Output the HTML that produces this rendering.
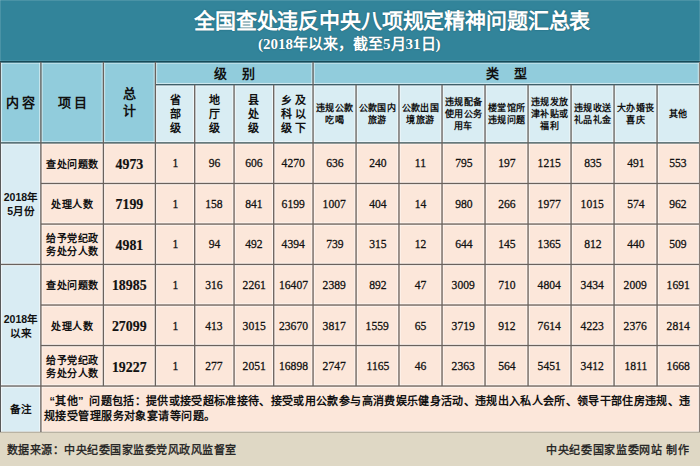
<!DOCTYPE html>
<html lang="zh-CN"><head><meta charset="utf-8"><title>全国查处违反中央八项规定精神问题汇总表</title><style>
*{margin:0;padding:0;box-sizing:border-box}
html,body{width:700px;height:466px;overflow:hidden;background:#fce7da}
body{position:relative;font-family:"Liberation Sans",sans-serif;color:#111}
svg{position:absolute;left:0;top:0}
.t{position:absolute;display:flex;align-items:center;justify-content:center;text-align:center;white-space:nowrap}
.t span{display:block}
.t i{display:block;font-style:normal;text-align:justify;text-align-last:justify}
.j{text-align:justify;text-align-last:justify;white-space:nowrap}
.h1{font-size:13px;font-weight:bold;line-height:17px}
.h2{font-size:13px;font-weight:bold;letter-spacing:15px;padding-left:15px}
.h3{font-size:11px;font-weight:bold;line-height:14px;padding-top:1px}
.h4{font-size:9px;font-weight:bold;line-height:12px;letter-spacing:0.4px}
.lc{font-size:11px;font-weight:bold;line-height:13.5px}
.lc span{transform:scale(0.96)}
.it{font-size:10px;font-weight:bold;line-height:13.5px;padding-top:2.5px}
.tot{font-family:"Liberation Serif",serif;font-size:15.4px;font-weight:bold;padding-top:1px;-webkit-text-stroke:0.2px #111}
.tot span{transform:scaleX(0.9)}
.num{font-family:"Liberation Serif",serif;font-size:13.2px;-webkit-text-stroke:0.3px #111}
.num span{transform:scaleX(0.88)}
.q{display:inline-block;width:11px;text-align:left;text-align-last:left}
.ql{text-align:right;text-align-last:right}
.note{position:absolute;font-size:11px;font-weight:bold;line-height:14.5px}
.title{position:absolute;left:194px;top:8px;width:396px;letter-spacing:-0.4px;font-weight:bold;font-size:21px;line-height:26px;color:#fff;text-shadow:0 0 1.2px rgba(15,70,85,0.9)}
.sub{position:absolute;left:258px;top:34px;font-weight:bold;font-size:15px;line-height:20px;color:#fff;white-space:nowrap;text-shadow:0 0 1.2px rgba(15,70,85,0.9)}
.sf{font-family:"Liberation Serif",serif}
.foot{position:absolute;top:441px;font-size:11px;line-height:18px;color:#1e1e1e;-webkit-text-stroke:0.35px #1e1e1e}
</style></head><body>
<svg width="700" height="466" viewBox="0 0 700 466"><rect x="0.00" y="0.00" width="700.00" height="62.00" fill="#32849a"/><rect x="0.00" y="62.00" width="700.00" height="370.00" fill="#fce7da"/><rect x="0.00" y="432.00" width="700.00" height="34.00" fill="#dfd8c5"/><rect x="0.00" y="61.80" width="700.00" height="81.10" fill="#91ccdc"/><rect x="155.40" y="84.70" width="544.60" height="58.20" fill="#d9edf3"/><rect x="0.00" y="142.90" width="40.90" height="289.10" fill="#d9ecf3"/><rect x="0.00" y="0.00" width="700.00" height="1.00" fill="#ffffff" fill-opacity="0.12"/><rect x="0.00" y="0.00" width="1.00" height="61.00" fill="#ffffff" fill-opacity="0.12"/><rect x="699.00" y="0.00" width="1.00" height="61.00" fill="#ffffff" fill-opacity="0.12"/><rect x="0.00" y="60.00" width="700.00" height="1.00" fill="#ffffff" fill-opacity="0.1"/><rect x="0.00" y="62.60" width="700.00" height="1.10" fill="#ffffff" fill-opacity="0.5"/><rect x="155.40" y="82.95" width="544.60" height="1.10" fill="#ffffff" fill-opacity="0.55"/><rect x="155.40" y="85.35" width="544.60" height="1.10" fill="#ffffff" fill-opacity="0.55"/><rect x="0.00" y="141.15" width="700.00" height="1.10" fill="#ffffff" fill-opacity="0.55"/><rect x="0.00" y="143.55" width="700.00" height="1.10" fill="#ffffff" fill-opacity="0.55"/><rect x="40.90" y="181.72" width="659.10" height="1.10" fill="#ffffff" fill-opacity="0.55"/><rect x="40.90" y="184.12" width="659.10" height="1.10" fill="#ffffff" fill-opacity="0.55"/><rect x="40.90" y="222.31" width="659.10" height="1.10" fill="#ffffff" fill-opacity="0.55"/><rect x="40.90" y="224.71" width="659.10" height="1.10" fill="#ffffff" fill-opacity="0.55"/><rect x="0.00" y="262.68" width="700.00" height="1.10" fill="#ffffff" fill-opacity="0.55"/><rect x="0.00" y="265.08" width="700.00" height="1.10" fill="#ffffff" fill-opacity="0.55"/><rect x="40.90" y="303.28" width="659.10" height="1.10" fill="#ffffff" fill-opacity="0.55"/><rect x="40.90" y="305.68" width="659.10" height="1.10" fill="#ffffff" fill-opacity="0.55"/><rect x="40.90" y="343.77" width="659.10" height="1.10" fill="#ffffff" fill-opacity="0.55"/><rect x="40.90" y="346.17" width="659.10" height="1.10" fill="#ffffff" fill-opacity="0.55"/><rect x="0.00" y="384.28" width="700.00" height="1.10" fill="#ffffff" fill-opacity="0.55"/><rect x="0.00" y="386.68" width="700.00" height="1.10" fill="#ffffff" fill-opacity="0.55"/><rect x="0.00" y="430.90" width="700.00" height="0.80" fill="#ffffff" fill-opacity="0.6"/><rect x="-1.10" y="61.80" width="1.10" height="370.20" fill="#ffffff" fill-opacity="0.55"/><rect x="1.00" y="61.80" width="1.10" height="370.20" fill="#ffffff" fill-opacity="0.55"/><rect x="697.80" y="61.80" width="1.10" height="370.20" fill="#ffffff" fill-opacity="0.55"/><rect x="700.10" y="61.80" width="1.10" height="370.20" fill="#ffffff" fill-opacity="0.55"/><rect x="39.15" y="61.80" width="1.10" height="370.20" fill="#ffffff" fill-opacity="0.55"/><rect x="41.55" y="61.80" width="1.10" height="370.20" fill="#ffffff" fill-opacity="0.55"/><rect x="101.65" y="61.80" width="1.10" height="324.23" fill="#ffffff" fill-opacity="0.55"/><rect x="104.05" y="61.80" width="1.10" height="324.23" fill="#ffffff" fill-opacity="0.55"/><rect x="153.65" y="61.80" width="1.10" height="324.23" fill="#ffffff" fill-opacity="0.55"/><rect x="156.05" y="61.80" width="1.10" height="324.23" fill="#ffffff" fill-opacity="0.55"/><rect x="192.95" y="84.70" width="1.10" height="301.33" fill="#ffffff" fill-opacity="0.55"/><rect x="195.35" y="84.70" width="1.10" height="301.33" fill="#ffffff" fill-opacity="0.55"/><rect x="232.30" y="84.70" width="1.10" height="301.33" fill="#ffffff" fill-opacity="0.55"/><rect x="234.70" y="84.70" width="1.10" height="301.33" fill="#ffffff" fill-opacity="0.55"/><rect x="271.95" y="84.70" width="1.10" height="301.33" fill="#ffffff" fill-opacity="0.55"/><rect x="274.35" y="84.70" width="1.10" height="301.33" fill="#ffffff" fill-opacity="0.55"/><rect x="311.30" y="61.80" width="1.10" height="324.23" fill="#ffffff" fill-opacity="0.55"/><rect x="313.70" y="61.80" width="1.10" height="324.23" fill="#ffffff" fill-opacity="0.55"/><rect x="354.31" y="84.70" width="1.10" height="301.33" fill="#ffffff" fill-opacity="0.55"/><rect x="356.71" y="84.70" width="1.10" height="301.33" fill="#ffffff" fill-opacity="0.55"/><rect x="397.22" y="84.70" width="1.10" height="301.33" fill="#ffffff" fill-opacity="0.55"/><rect x="399.62" y="84.70" width="1.10" height="301.33" fill="#ffffff" fill-opacity="0.55"/><rect x="440.28" y="84.70" width="1.10" height="301.33" fill="#ffffff" fill-opacity="0.55"/><rect x="442.68" y="84.70" width="1.10" height="301.33" fill="#ffffff" fill-opacity="0.55"/><rect x="483.28" y="84.70" width="1.10" height="301.33" fill="#ffffff" fill-opacity="0.55"/><rect x="485.68" y="84.70" width="1.10" height="301.33" fill="#ffffff" fill-opacity="0.55"/><rect x="526.31" y="84.70" width="1.10" height="301.33" fill="#ffffff" fill-opacity="0.55"/><rect x="528.71" y="84.70" width="1.10" height="301.33" fill="#ffffff" fill-opacity="0.55"/><rect x="569.31" y="84.70" width="1.10" height="301.33" fill="#ffffff" fill-opacity="0.55"/><rect x="571.71" y="84.70" width="1.10" height="301.33" fill="#ffffff" fill-opacity="0.55"/><rect x="612.31" y="84.70" width="1.10" height="301.33" fill="#ffffff" fill-opacity="0.55"/><rect x="614.71" y="84.70" width="1.10" height="301.33" fill="#ffffff" fill-opacity="0.55"/><rect x="655.31" y="84.70" width="1.10" height="301.33" fill="#ffffff" fill-opacity="0.55"/><rect x="657.71" y="84.70" width="1.10" height="301.33" fill="#ffffff" fill-opacity="0.55"/><rect x="0.00" y="61.00" width="700.00" height="1.60" fill="#174a58"/><rect x="155.40" y="84.05" width="544.60" height="1.30" fill="#3b5a63"/><rect x="0.00" y="142.25" width="700.00" height="1.30" fill="#3f5458"/><rect x="40.90" y="182.82" width="659.10" height="1.30" fill="#6a625d"/><rect x="40.90" y="223.41" width="659.10" height="1.30" fill="#6a625d"/><rect x="0.00" y="263.78" width="700.00" height="1.30" fill="#6a625d"/><rect x="40.90" y="304.38" width="659.10" height="1.30" fill="#6a625d"/><rect x="40.90" y="344.87" width="659.10" height="1.30" fill="#6a625d"/><rect x="0.00" y="385.38" width="700.00" height="1.30" fill="#6a625d"/><rect x="0.00" y="431.70" width="700.00" height="1.00" fill="#a9a495"/><rect x="0.00" y="61.80" width="1.00" height="370.20" fill="#5a5a5a"/><rect x="698.90" y="61.80" width="1.20" height="370.20" fill="#8a7f78"/><rect x="40.25" y="61.80" width="1.30" height="370.20" fill="#6a625d"/><rect x="102.75" y="61.80" width="1.30" height="324.23" fill="#6a625d"/><rect x="154.75" y="61.80" width="1.30" height="324.23" fill="#6a625d"/><rect x="194.05" y="84.70" width="1.30" height="301.33" fill="#6a625d"/><rect x="233.40" y="84.70" width="1.30" height="301.33" fill="#6a625d"/><rect x="273.05" y="84.70" width="1.30" height="301.33" fill="#6a625d"/><rect x="312.40" y="61.80" width="1.30" height="324.23" fill="#6a625d"/><rect x="355.41" y="84.70" width="1.30" height="301.33" fill="#6a625d"/><rect x="398.32" y="84.70" width="1.30" height="301.33" fill="#6a625d"/><rect x="441.38" y="84.70" width="1.30" height="301.33" fill="#6a625d"/><rect x="484.38" y="84.70" width="1.30" height="301.33" fill="#6a625d"/><rect x="527.41" y="84.70" width="1.30" height="301.33" fill="#6a625d"/><rect x="570.41" y="84.70" width="1.30" height="301.33" fill="#6a625d"/><rect x="613.41" y="84.70" width="1.30" height="301.33" fill="#6a625d"/><rect x="656.41" y="84.70" width="1.30" height="301.33" fill="#6a625d"/></svg>
<div class="t h1" style="left:1px;top:62px;width:39px;height:80px;"><span>内 容</span></div>
<div class="t h1" style="left:42px;top:62px;width:61px;height:80px;"><span>项 目</span></div>
<div class="t h1" style="left:104px;top:62px;width:51px;height:80px;"><span>总<br>计</span></div>
<div class="t h2" style="left:156px;top:61.5px;width:157px;height:22.5px;"><span>级别</span></div>
<div class="t h2" style="left:314px;top:61.5px;width:385px;height:22.5px;"><span>类型</span></div>
<div class="t h3" style="left:155.4px;top:85px;width:39.3px;height:57px;"><span>省<br>部<br>级</span></div>
<div class="t h3" style="left:194.7px;top:85px;width:39.35px;height:57px;"><span>地<br>厅<br>级</span></div>
<div class="t h3" style="left:234.05px;top:85px;width:39.65px;height:57px;"><span>县<br>处<br>级</span></div>
<div class="t h3" style="left:273.7px;top:85px;width:39.35px;height:57px;"><span>乡 及<br>科 以<br>级 下</span></div>
<div class="t h4" style="left:313.05px;top:85px;width:43.01px;height:57px;"><span>违规公款<br>吃喝</span></div>
<div class="t h4" style="left:356.06px;top:85px;width:42.91px;height:57px;"><span>公款国内<br>旅游</span></div>
<div class="t h4" style="left:398.97px;top:85px;width:43.06px;height:57px;"><span>公款出国<br>境旅游</span></div>
<div class="t h4" style="left:442.03px;top:85px;width:43px;height:57px;"><span>违规配备<br>使用公务<br>用车</span></div>
<div class="t h4" style="left:485.03px;top:85px;width:43.03px;height:57px;"><span>楼堂馆所<br>违规问题</span></div>
<div class="t h4" style="left:528.06px;top:85px;width:43px;height:57px;"><span>违规发放<br>津补贴或<br>福利</span></div>
<div class="t h4" style="left:571.06px;top:85px;width:43px;height:57px;"><span>违规收送<br>礼品礼金</span></div>
<div class="t h4" style="left:614.06px;top:85px;width:43px;height:57px;"><span>大办婚丧<br>喜庆</span></div>
<div class="t h4" style="left:657.06px;top:85px;width:42.34px;height:57px;"><span>其他</span></div>
<div class="t lc" style="left:1px;top:143.5px;width:39px;height:121px;"><span>2018年<br>5月份</span></div>
<div class="t lc" style="left:1px;top:265.5px;width:39px;height:121px;"><span>2018年<br>以来</span></div>
<div class="t lc" style="left:1px;top:387px;width:39px;height:45px;"><span>备注</span></div>
<div class="t it" style="left:41px;top:143px;width:62px;height:40px;"><span><i style="width:52px">查处问题数</i></span></div>
<div class="t tot" style="left:104px;top:143px;width:51px;height:40px;"><span>4973</span></div>
<div class="t num" style="left:155.4px;top:143px;width:39.3px;height:40px;"><span>1</span></div>
<div class="t num" style="left:194.7px;top:143px;width:39.35px;height:40px;"><span>96</span></div>
<div class="t num" style="left:234.05px;top:143px;width:39.65px;height:40px;"><span>606</span></div>
<div class="t num" style="left:273.7px;top:143px;width:39.35px;height:40px;"><span>4270</span></div>
<div class="t num" style="left:313.05px;top:143px;width:43.01px;height:40px;"><span>636</span></div>
<div class="t num" style="left:356.06px;top:143px;width:42.91px;height:40px;"><span>240</span></div>
<div class="t num" style="left:398.97px;top:143px;width:43.06px;height:40px;"><span>11</span></div>
<div class="t num" style="left:442.03px;top:143px;width:43px;height:40px;"><span>795</span></div>
<div class="t num" style="left:485.03px;top:143px;width:43.03px;height:40px;"><span>197</span></div>
<div class="t num" style="left:528.06px;top:143px;width:43px;height:40px;"><span>1215</span></div>
<div class="t num" style="left:571.06px;top:143px;width:43px;height:40px;"><span>835</span></div>
<div class="t num" style="left:614.06px;top:143px;width:43px;height:40px;"><span>491</span></div>
<div class="t num" style="left:657.06px;top:143px;width:42.34px;height:40px;"><span>553</span></div>
<div class="t it" style="left:41px;top:183px;width:62px;height:41px;"><span><i style="width:42px">处理人数</i></span></div>
<div class="t tot" style="left:104px;top:183px;width:51px;height:41px;"><span>7199</span></div>
<div class="t num" style="left:155.4px;top:183px;width:39.3px;height:41px;"><span>1</span></div>
<div class="t num" style="left:194.7px;top:183px;width:39.35px;height:41px;"><span>158</span></div>
<div class="t num" style="left:234.05px;top:183px;width:39.65px;height:41px;"><span>841</span></div>
<div class="t num" style="left:273.7px;top:183px;width:39.35px;height:41px;"><span>6199</span></div>
<div class="t num" style="left:313.05px;top:183px;width:43.01px;height:41px;"><span>1007</span></div>
<div class="t num" style="left:356.06px;top:183px;width:42.91px;height:41px;"><span>404</span></div>
<div class="t num" style="left:398.97px;top:183px;width:43.06px;height:41px;"><span>14</span></div>
<div class="t num" style="left:442.03px;top:183px;width:43px;height:41px;"><span>980</span></div>
<div class="t num" style="left:485.03px;top:183px;width:43.03px;height:41px;"><span>266</span></div>
<div class="t num" style="left:528.06px;top:183px;width:43px;height:41px;"><span>1977</span></div>
<div class="t num" style="left:571.06px;top:183px;width:43px;height:41px;"><span>1015</span></div>
<div class="t num" style="left:614.06px;top:183px;width:43px;height:41px;"><span>574</span></div>
<div class="t num" style="left:657.06px;top:183px;width:42.34px;height:41px;"><span>962</span></div>
<div class="t it" style="left:41px;top:224px;width:62px;height:40px;"><span><i style="width:52px">给予党纪政</i><i style="width:52px">务处分人数</i></span></div>
<div class="t tot" style="left:104px;top:224px;width:51px;height:40px;"><span>4981</span></div>
<div class="t num" style="left:155.4px;top:224px;width:39.3px;height:40px;"><span>1</span></div>
<div class="t num" style="left:194.7px;top:224px;width:39.35px;height:40px;"><span>94</span></div>
<div class="t num" style="left:234.05px;top:224px;width:39.65px;height:40px;"><span>492</span></div>
<div class="t num" style="left:273.7px;top:224px;width:39.35px;height:40px;"><span>4394</span></div>
<div class="t num" style="left:313.05px;top:224px;width:43.01px;height:40px;"><span>739</span></div>
<div class="t num" style="left:356.06px;top:224px;width:42.91px;height:40px;"><span>315</span></div>
<div class="t num" style="left:398.97px;top:224px;width:43.06px;height:40px;"><span>12</span></div>
<div class="t num" style="left:442.03px;top:224px;width:43px;height:40px;"><span>644</span></div>
<div class="t num" style="left:485.03px;top:224px;width:43.03px;height:40px;"><span>145</span></div>
<div class="t num" style="left:528.06px;top:224px;width:43px;height:40px;"><span>1365</span></div>
<div class="t num" style="left:571.06px;top:224px;width:43px;height:40px;"><span>812</span></div>
<div class="t num" style="left:614.06px;top:224px;width:43px;height:40px;"><span>440</span></div>
<div class="t num" style="left:657.06px;top:224px;width:42.34px;height:40px;"><span>509</span></div>
<div class="t it" style="left:41px;top:264px;width:62px;height:41px;"><span><i style="width:52px">查处问题数</i></span></div>
<div class="t tot" style="left:104px;top:264px;width:51px;height:41px;"><span>18985</span></div>
<div class="t num" style="left:155.4px;top:264px;width:39.3px;height:41px;"><span>1</span></div>
<div class="t num" style="left:194.7px;top:264px;width:39.35px;height:41px;"><span>316</span></div>
<div class="t num" style="left:234.05px;top:264px;width:39.65px;height:41px;"><span>2261</span></div>
<div class="t num" style="left:273.7px;top:264px;width:39.35px;height:41px;"><span>16407</span></div>
<div class="t num" style="left:313.05px;top:264px;width:43.01px;height:41px;"><span>2389</span></div>
<div class="t num" style="left:356.06px;top:264px;width:42.91px;height:41px;"><span>892</span></div>
<div class="t num" style="left:398.97px;top:264px;width:43.06px;height:41px;"><span>47</span></div>
<div class="t num" style="left:442.03px;top:264px;width:43px;height:41px;"><span>3009</span></div>
<div class="t num" style="left:485.03px;top:264px;width:43.03px;height:41px;"><span>710</span></div>
<div class="t num" style="left:528.06px;top:264px;width:43px;height:41px;"><span>4804</span></div>
<div class="t num" style="left:571.06px;top:264px;width:43px;height:41px;"><span>3434</span></div>
<div class="t num" style="left:614.06px;top:264px;width:43px;height:41px;"><span>2009</span></div>
<div class="t num" style="left:657.06px;top:264px;width:42.34px;height:41px;"><span>1691</span></div>
<div class="t it" style="left:41px;top:305px;width:62px;height:41px;"><span><i style="width:42px">处理人数</i></span></div>
<div class="t tot" style="left:104px;top:305px;width:51px;height:41px;"><span>27099</span></div>
<div class="t num" style="left:155.4px;top:305px;width:39.3px;height:41px;"><span>1</span></div>
<div class="t num" style="left:194.7px;top:305px;width:39.35px;height:41px;"><span>413</span></div>
<div class="t num" style="left:234.05px;top:305px;width:39.65px;height:41px;"><span>3015</span></div>
<div class="t num" style="left:273.7px;top:305px;width:39.35px;height:41px;"><span>23670</span></div>
<div class="t num" style="left:313.05px;top:305px;width:43.01px;height:41px;"><span>3817</span></div>
<div class="t num" style="left:356.06px;top:305px;width:42.91px;height:41px;"><span>1559</span></div>
<div class="t num" style="left:398.97px;top:305px;width:43.06px;height:41px;"><span>65</span></div>
<div class="t num" style="left:442.03px;top:305px;width:43px;height:41px;"><span>3719</span></div>
<div class="t num" style="left:485.03px;top:305px;width:43.03px;height:41px;"><span>912</span></div>
<div class="t num" style="left:528.06px;top:305px;width:43px;height:41px;"><span>7614</span></div>
<div class="t num" style="left:571.06px;top:305px;width:43px;height:41px;"><span>4223</span></div>
<div class="t num" style="left:614.06px;top:305px;width:43px;height:41px;"><span>2376</span></div>
<div class="t num" style="left:657.06px;top:305px;width:42.34px;height:41px;"><span>2814</span></div>
<div class="t it" style="left:41px;top:346px;width:62px;height:40px;"><span><i style="width:52px">给予党纪政</i><i style="width:52px">务处分人数</i></span></div>
<div class="t tot" style="left:104px;top:346px;width:51px;height:40px;"><span>19227</span></div>
<div class="t num" style="left:155.4px;top:346px;width:39.3px;height:40px;"><span>1</span></div>
<div class="t num" style="left:194.7px;top:346px;width:39.35px;height:40px;"><span>277</span></div>
<div class="t num" style="left:234.05px;top:346px;width:39.65px;height:40px;"><span>2051</span></div>
<div class="t num" style="left:273.7px;top:346px;width:39.35px;height:40px;"><span>16898</span></div>
<div class="t num" style="left:313.05px;top:346px;width:43.01px;height:40px;"><span>2747</span></div>
<div class="t num" style="left:356.06px;top:346px;width:42.91px;height:40px;"><span>1165</span></div>
<div class="t num" style="left:398.97px;top:346px;width:43.06px;height:40px;"><span>46</span></div>
<div class="t num" style="left:442.03px;top:346px;width:43px;height:40px;"><span>2363</span></div>
<div class="t num" style="left:485.03px;top:346px;width:43.03px;height:40px;"><span>564</span></div>
<div class="t num" style="left:528.06px;top:346px;width:43px;height:40px;"><span>5451</span></div>
<div class="t num" style="left:571.06px;top:346px;width:43px;height:40px;"><span>3412</span></div>
<div class="t num" style="left:614.06px;top:346px;width:43px;height:40px;"><span>1811</span></div>
<div class="t num" style="left:657.06px;top:346px;width:42.34px;height:40px;"><span>1668</span></div>
<div class="note j" style="left:44px;top:394px;width:646px;"><span class="q ql">“</span>其他<span class="q">”</span>问题包括：提供或接受超标准接待、接受或用公款参与高消费娱乐健身活动、违规出入私人会所、领导干部住房违规、违</div>
<div class="note j" style="left:44px;top:409px;width:171px;">规接受管理服务对象宴请等问题。</div>
<div class="title j">全国查处违反中央八项规定精神问题汇总表</div>
<div class="sub"><span class="sf">(2018</span>年以来，截至<span class="sf">5</span>月<span class="sf">31</span>日<span class="sf">)</span></div>
<div class="foot j" style="left:7px;width:229px;">数据来源：中央纪委国家监委党风政风监督室</div>
<div class="foot j" style="left:546px;width:116px;">中央纪委国家监委网站</div>
<div class="foot j" style="left:666px;width:22.5px;">制作</div>
</body></html>
